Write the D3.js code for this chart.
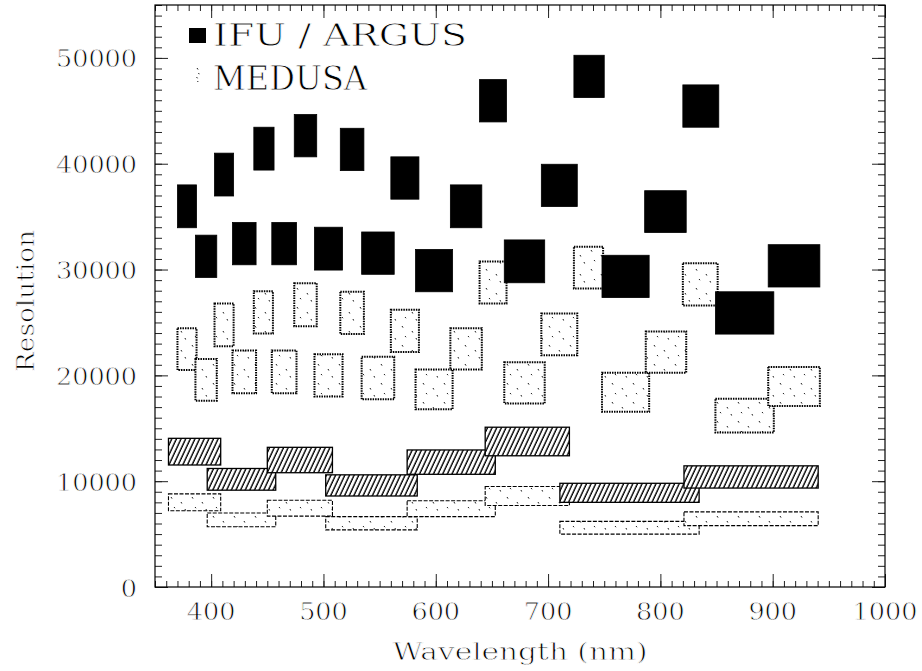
<!DOCTYPE html>
<html><head><meta charset="utf-8">
<script src="https://cdn.jsdelivr.net/npm/d3@7/dist/d3.min.js"></script>
<style>body{margin:0;background:#fff}text{font-family:"DejaVu Serif","Liberation Serif",serif;fill:#000;stroke:#fff;stroke-width:0.8px;paint-order:fill}</style>
</head><body><svg id="c" width="922" height="671"></svg>
<script>
// IFU / ARGUS high-resolution setups (filled): wavelength range (nm), resolution range
const argusHR = [
  {w0:370,w1:387,r0:33950,r1:38000},{w0:403,w1:420,r0:36950,r1:41000},
  {w0:438,w1:456,r0:39400,r1:43450},{w0:474,w1:494,r0:40650,r1:44650},
  {w0:515,w1:536,r0:39350,r1:43350},{w0:560,w1:585,r0:36650,r1:40650},
  {w0:613,w1:641,r0:33950,r1:38000},{w0:639,w1:663,r0:43950,r1:47950},
  {w0:694,w1:726,r0:35950,r1:39950},{w0:723,w1:750,r0:46250,r1:50250},
  {w0:820,w1:852,r0:43450,r1:47450},{w0:786,w1:823,r0:33500,r1:37450},
  {w0:386,w1:405,r0:29250,r1:33250},{w0:419,w1:440,r0:30450,r1:34450},
  {w0:454,w1:476,r0:30450,r1:34450},{w0:492,w1:517,r0:29950,r1:34000},
  {w0:534,w1:563,r0:29550,r1:33550},{w0:582,w1:615,r0:27900,r1:31900},
  {w0:661,w1:697,r0:28750,r1:32800},{w0:748,w1:790,r0:27350,r1:31350},
  {w0:896,w1:942,r0:28350,r1:32350},{w0:849,w1:901,r0:23900,r1:27900}
];
// MEDUSA high-resolution setups (dotted)
const medusaHR = [
  {w0:370,w1:387,r0:20500,r1:24450},{w0:386,w1:405,r0:17600,r1:21550},
  {w0:403,w1:420,r0:22750,r1:26800},{w0:419,w1:440,r0:18300,r1:22350},
  {w0:438,w1:455,r0:23950,r1:27950},{w0:454,w1:476,r0:18300,r1:22350},
  {w0:474,w1:494,r0:24650,r1:28700},{w0:492,w1:517,r0:18000,r1:22000},
  {w0:515,w1:536,r0:23900,r1:27900},{w0:534,w1:563,r0:17750,r1:21750},
  {w0:560,w1:585,r0:22200,r1:26200},{w0:582,w1:615,r0:16800,r1:20550},
  {w0:613,w1:641,r0:20550,r1:24450},{w0:639,w1:663,r0:26800,r1:30750},
  {w0:661,w1:697,r0:17350,r1:21250},{w0:694,w1:726,r0:21900,r1:25850},
  {w0:723,w1:749,r0:28200,r1:32150},{w0:748,w1:790,r0:16550,r1:20250},
  {w0:787,w1:823,r0:20250,r1:24150},{w0:820,w1:851,r0:26600,r1:30600},
  {w0:849,w1:901,r0:14600,r1:17800},{w0:896,w1:942,r0:17100,r1:20800}
];
// IFU low-resolution setups (hatched)
const ifuLR = [
  {w0:362,w1:408.5,r0:11530,r1:14050},{w0:396.5,w1:457.5,r0:9150,r1:11200},
  {w0:450,w1:508,r0:10800,r1:13200},{w0:502,w1:583.5,r0:8600,r1:10600},
  {w0:574.5,w1:653,r0:10650,r1:12950},{w0:644,w1:719,r0:12400,r1:15100},
  {w0:710.5,w1:834.5,r0:8000,r1:9800},{w0:821,w1:940.5,r0:9350,r1:11450}
];
// MEDUSA low-resolution setups (thin dashed outline)
const medusaLR = [
  {w0:362,w1:408.5,r0:7200,r1:8800},{w0:396.5,w1:457.5,r0:5700,r1:7000},
  {w0:450,w1:508,r0:6700,r1:8200},{w0:502,w1:583.5,r0:5400,r1:6650},
  {w0:574.5,w1:653,r0:6650,r1:8150},{w0:644,w1:719,r0:7700,r1:9500},
  {w0:710.5,w1:834.5,r0:5000,r1:6200},{w0:821,w1:940.5,r0:5800,r1:7100}
];
const xMajor = [400,500,600,700,800,900,1000];
const yMajor = [0,10000,20000,30000,40000,50000];
const xMinor = d3.range(350,1001,10);
const yMinor = d3.range(0,55001,1000);
const legendLabels = ["IFU / ARGUS","MEDUSA"];

const svg = d3.select('#c');
const x = d3.scaleLinear().domain([350,1000]).range([155,885]);
const y = d3.scaleLinear().domain([0,55000]).range([587,5]);

const defs = svg.append('defs');
const hatch = defs.append('pattern').attr('id','hatch').attr('patternUnits','userSpaceOnUse')
  .attr('width',4.2).attr('height',10).attr('patternTransform','rotate(25)');
hatch.append('rect').attr('width',4.2).attr('height',10).attr('fill','#fff');
hatch.append('line').attr('x1',1).attr('x2',1).attr('y1',0).attr('y2',10).attr('stroke','#000').attr('stroke-width',1.4);
const spk = defs.append('pattern').attr('id','spk').attr('patternUnits','userSpaceOnUse')
  .attr('width',21).attr('height',19);
spk.append('rect').attr('width',21).attr('height',19).attr('fill','#fff');
spk.append('path').attr('d','M3,3 l1,1.6 M13,8 l0.8,1.5 M6,13 l1,1.2 M17,15 l0.6,1.5')
  .attr('stroke','#000').attr('stroke-width',0.9).attr('fill','none');

function boxes(data, cls){
  return svg.append('g').attr('class',cls).selectAll('rect').data(data).join('rect')
    .attr('x',d=>x(d.w0)).attr('width',d=>x(d.w1)-x(d.w0))
    .attr('y',d=>y(d.r1)).attr('height',d=>y(d.r0)-y(d.r1));
}
boxes(medusaLR,'mlr').attr('fill','url(#spk)').attr('stroke','#000').attr('stroke-width',1.1).attr('stroke-dasharray','4,1.5');
boxes(ifuLR,'ilr').attr('fill','url(#hatch)').attr('stroke','#000').attr('stroke-width',1.3);
boxes(medusaHR,'mhr').attr('fill','url(#spk)').attr('stroke','#000').attr('stroke-width',2).attr('stroke-dasharray','1.5,1');
boxes(argusHR,'ahr').attr('fill','#000').attr('stroke','#000').attr('stroke-width',0.8);

// axes (ticks inward on all four sides)
function ax(gen, tr, vals, len){
  const g = svg.append('g').attr('transform',tr).call(gen.tickValues(vals).tickSize(-len).tickFormat(''));
  g.select('.domain').remove();
  g.selectAll('line').attr('stroke','#222').attr('stroke-width',1);
}
ax(d3.axisBottom(x),'translate(0,587)',xMinor,6);
ax(d3.axisBottom(x),'translate(0,587)',xMajor,13);
ax(d3.axisTop(x),'translate(0,5)',xMinor,6);
ax(d3.axisTop(x),'translate(0,5)',xMajor,13);
ax(d3.axisLeft(y),'translate(155,0)',yMinor,7);
ax(d3.axisLeft(y),'translate(155,0)',yMajor,13);
ax(d3.axisRight(y),'translate(885,0)',yMinor,7);
ax(d3.axisRight(y),'translate(885,0)',yMajor,13);
svg.append('rect').attr('x',155).attr('y',5).attr('width',730).attr('height',582)
  .attr('fill','none').attr('stroke','#000').attr('stroke-width',1.2);

// tick labels
const FS = '23.5px';
svg.append('g').selectAll('text').data(xMajor).join('text')
  .attr('x',d=>x(d)).attr('y',620).attr('text-anchor','middle').style('font-size',FS)
  .attr('textLength',d=>String(d).length*16.2).attr('lengthAdjust','spacingAndGlyphs').text(d=>d);
svg.append('g').selectAll('text').data(yMajor).join('text')
  .attr('x',137).attr('y',d=>y(d)+9.5).attr('text-anchor','end').style('font-size',FS)
  .attr('textLength',d=>String(d).length*16.2).attr('lengthAdjust','spacingAndGlyphs')
  .text(d=>d);

// axis titles
svg.append('text').attr('x',520).attr('y',660).attr('text-anchor','middle').style('font-size',FS)
  .attr('textLength',255).attr('lengthAdjust','spacingAndGlyphs').text('Wavelength (nm)');
svg.append('text').attr('transform','translate(34,301) rotate(-90)').attr('text-anchor','middle').style('font-size','25px')
  .attr('textLength',142).attr('lengthAdjust','spacingAndGlyphs').text('Resolution');

// legend
svg.append('rect').attr('x',189).attr('y',28).attr('width',17).attr('height',15).attr('fill','#000');
svg.append('path').attr('d','M197,68 l1,1.5 M198.5,73 l0.7,1.2 M196.5,77 l1,1.3 M197.5,81 l0.6,1')
  .attr('stroke','#000').attr('stroke-width',0.9).attr('fill','none');
svg.append('text').attr('x',213).attr('y',46).style('font-size','31.5px')
  .attr('textLength',254).attr('lengthAdjust','spacingAndGlyphs').text(legendLabels[0]);
svg.append('text').attr('x',213).attr('y',90).style('font-size','33px')
  .attr('textLength',154).attr('lengthAdjust','spacingAndGlyphs').text(legendLabels[1]);
</script></body></html>
